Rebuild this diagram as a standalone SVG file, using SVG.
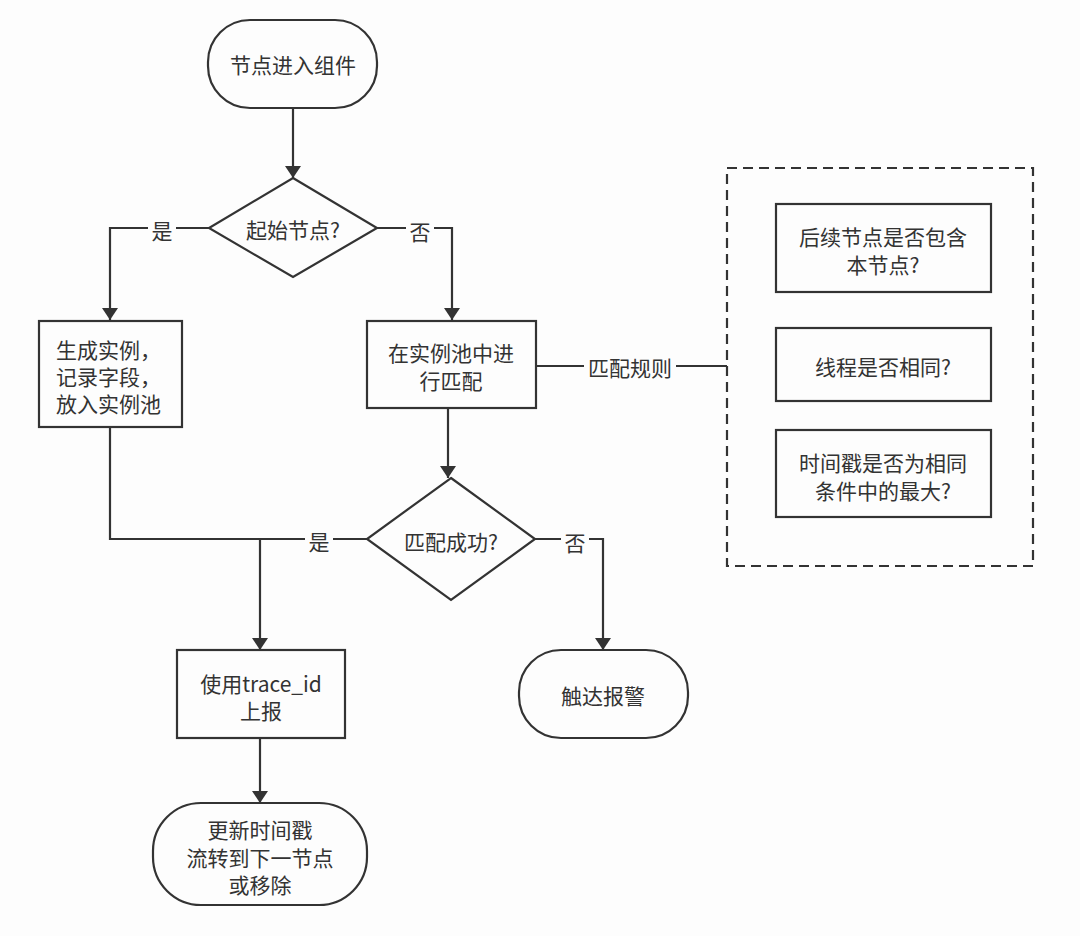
<svg xmlns="http://www.w3.org/2000/svg" width="1080" height="936" viewBox="0 0 1080 936">
<defs>
<marker id="arr" viewBox="0 0 12 16" refX="12" refY="8" markerWidth="12" markerHeight="16" markerUnits="userSpaceOnUse" orient="auto">
<path d="M0,0 L12,8 L0,16 Z" fill="#333"/>
</marker>
<style>
.s{fill:#fdfdfd;stroke:#333;stroke-width:2.2}
.t{font-family:"Noto Sans CJK SC","Noto Sans",sans-serif;font-size:21px;fill:#333;text-anchor:middle;dominant-baseline:central}
.c{fill:none;stroke:#333;stroke-width:2.2}
.lb{fill:#fdfdfd}
</style>
</defs>
<rect width="1080" height="936" fill="#fdfdfd"/>
<g id="connectors">
<path class="c" d="M293,108 V178" marker-end="url(#arr)"/>
<path class="c" d="M209,228 H110 V320" marker-end="url(#arr)"/>
<path class="c" d="M377,228 H452 V320" marker-end="url(#arr)"/>
<path class="c" d="M536,366 H727"/>
<path class="c" d="M448,408 V478" marker-end="url(#arr)"/>
<path class="c" d="M110,427 V539 H260"/>
<path class="c" d="M367,539 H260 V650" marker-end="url(#arr)"/>
<path class="c" d="M535,539 H603 V650" marker-end="url(#arr)"/>
<path class="c" d="M260,738 V803" marker-end="url(#arr)"/>
<rect class="lb" x="148" y="216" width="28" height="26"/>
<text class="t" x="162" y="230">是</text>
<rect class="lb" x="406" y="216" width="28" height="26"/>
<text class="t" x="420" y="231">否</text>
<rect class="lb" x="584" y="353" width="92" height="26"/>
<text class="t" x="630" y="367">匹配规则</text>
<rect class="lb" x="305" y="527" width="28" height="26"/>
<text class="t" x="319" y="541">是</text>
<rect class="lb" x="561" y="529" width="28" height="26"/>
<text class="t" x="575" y="542">否</text>
</g>
<g id="start">
<rect class="s" x="208" y="20" width="169" height="88" rx="42"/>
<text class="t" x="293" y="64">节点进入组件</text>
</g>
<g id="isStart">
<path class="s" d="M293,178 L377,228 L293,277 L209,228 Z"/>
<text class="t" x="293" y="229">起始节点?</text>
</g>
<g id="createInstance">
<rect class="s" x="39" y="321" width="143" height="106"/>
<text class="t" x="110" y="349" style="text-anchor:start" dx="-54">生成实例，</text>
<text class="t" x="110" y="376" style="text-anchor:start" dx="-54">记录字段，</text>
<text class="t" x="110" y="403" style="text-anchor:start" dx="-54">放入实例池</text>
</g>
<g id="match">
<rect class="s" x="367" y="321" width="169" height="87"/>
<text class="t" x="451" y="352">在实例池中进</text>
<text class="t" x="451" y="380">行匹配</text>
</g>
<g id="rules">
<rect x="727" y="168" width="306" height="398" fill="none" stroke="#333" stroke-width="2.2" stroke-dasharray="10,6"/>
<g id="rule1">
<rect class="s" x="776" y="204" width="215" height="88"/>
<text class="t" x="883" y="236">后续节点是否包含</text>
<text class="t" x="883" y="264">本节点?</text>
</g>
<g id="rule2">
<rect class="s" x="776" y="328" width="215" height="73"/>
<text class="t" x="883" y="366">线程是否相同?</text>
</g>
<g id="rule3">
<rect class="s" x="776" y="430" width="215" height="87"/>
<text class="t" x="883" y="462">时间戳是否为相同</text>
<text class="t" x="883" y="490">条件中的最大?</text>
</g>
</g>
<g id="matchOk">
<path class="s" d="M451,478 L535,539 L451,600 L367,539 Z"/>
<text class="t" x="451" y="541">匹配成功?</text>
</g>
<g id="report">
<rect class="s" x="177" y="650" width="168" height="88"/>
<text class="t" x="261" y="683">使用trace_id</text>
<text class="t" x="261" y="710">上报</text>
</g>
<g id="alarm">
<rect class="s" x="519" y="650" width="169" height="88" rx="42"/>
<text class="t" x="603" y="695">触达报警</text>
</g>
<g id="update">
<rect class="s" x="153" y="803" width="214" height="102" rx="48"/>
<text class="t" x="260" y="829">更新时间戳</text>
<text class="t" x="260" y="857">流转到下一节点</text>
<text class="t" x="260" y="884">或移除</text>
</g>
</svg>
